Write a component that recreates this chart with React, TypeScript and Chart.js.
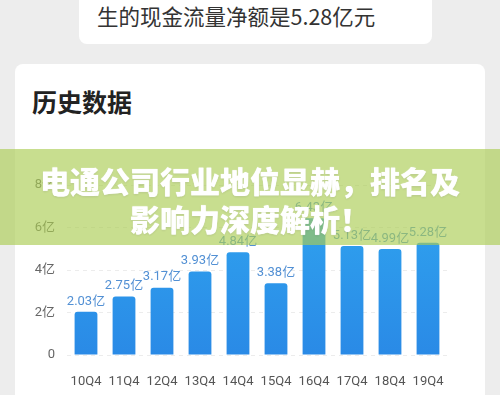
import React, { useEffect, useRef } from "react";
import { Chart, registerables } from "chart.js";

Chart.register(...registerables);

const categories = ["10Q4", "11Q4", "12Q4", "13Q4", "14Q4", "15Q4", "16Q4", "17Q4", "18Q4", "19Q4"];
const values = [2.03, 2.75, 3.17, 3.93, 4.84, 3.38, 6.43, 5.13, 4.99, 5.28];
const yTicks = [0, 2, 4, 6, 8];

const FONT = '"Noto Sans CJK SC", "Noto Sans", sans-serif';
const NUMFONT = 'Roboto, "Noto Sans CJK SC", sans-serif';

const valueLabels = {
  id: "valueLabels",
  afterDatasetsDraw(chart: any) {
    const { ctx } = chart;
    const meta = chart.getDatasetMeta(0);
    ctx.save();
    ctx.font = `13px ${NUMFONT}`;
    ctx.fillStyle = "#5290d4";
    ctx.textAlign = "center";
    ctx.textBaseline = "bottom";
    meta.data.forEach((el: any, i: number) => {
      ctx.fillText(values[i].toFixed(2) + "亿", el.x, el.y - 4);
    });
    ctx.restore();
  },
};

function BarChart() {
  const ref = useRef<HTMLCanvasElement | null>(null);
  useEffect(() => {
    if (!ref.current) return;
    const chart = new Chart(ref.current, {
      type: "bar",
      data: {
        labels: categories,
        datasets: [
          {
            data: values,
            backgroundColor: (c: any) => {
              const area = c.chart.chartArea;
              if (!area) return "#2c98ea";
              const g = c.chart.ctx.createLinearGradient(0, area.top, 0, area.bottom);
              g.addColorStop(0, "#30a6f0");
              g.addColorStop(1, "#2a8ae6");
              return g;
            },
            borderRadius: { topLeft: 3, topRight: 3 },
            borderSkipped: "bottom",
            categoryPercentage: 1,
            barPercentage: 0.6,
          },
        ],
      },
      options: {
        animation: false,
        responsive: false,
        maintainAspectRatio: false,
        layout: { padding: { left: 0, right: 53, top: 185, bottom: 0 } },
        plugins: { legend: { display: false }, tooltip: { enabled: false } },
        scales: {
          x: {
            grid: { display: false },
            border: { display: false },
            ticks: { color: "#555", font: { size: 13, family: NUMFONT }, padding: 11 },
            afterFit: (s: any) => {
              s.height = 40;
            },
          },
          y: {
            min: 0,
            max: 8,
            afterBuildTicks: (s: any) => {
              s.ticks = yTicks.map((v) => ({ value: v }));
            },
            grid: { color: "#ececec", drawTicks: false },
            border: { display: false, dash: [4, 4] },
            ticks: {
              color: "#666",
              font: { size: 13, family: NUMFONT },
              padding: 12,
              callback: (v: any) => (v === 0 ? "0" : v + "亿"),
            },
            afterFit: (s: any) => {
              s.width = 67;
            },
          },
        },
      },
      plugins: [valueLabels],
    });
    return () => chart.destroy();
  }, []);
  return (
    <canvas
      ref={ref}
      width={500}
      height={395}
      style={{ position: "absolute", left: 0, top: 0, width: 500, height: 395 }}
    />
  );
}

export default function App() {
  return (
    <div
      style={{
        position: "fixed",
        left: 0,
        top: 0,
        width: 500,
        height: 395,
        overflow: "hidden",
        background: "#ededed",
        fontFamily: FONT,
      }}
    >
      <div
        style={{
          position: "absolute",
          left: 79,
          top: -20,
          width: 353,
          height: 64,
          background: "#fff",
          borderRadius: 8,
        }}
      >
        <div
          style={{
            position: "absolute",
            left: 18,
            top: 20,
            height: 32,
            lineHeight: "32px",
            fontSize: 21.5,
            color: "#333",
            whiteSpace: "nowrap",
          }}
        >
          生的现金流量净额是5.28亿元
        </div>
      </div>
      <div
        style={{
          position: "absolute",
          left: 15,
          top: 64,
          width: 470,
          height: 360,
          background: "#fff",
          borderRadius: 8,
        }}
      >
        <div
          style={{
            position: "absolute",
            left: 17,
            top: 21,
            lineHeight: "32px",
            fontSize: 25,
            fontWeight: 700,
            color: "#222",
            whiteSpace: "nowrap",
          }}
        >
          历史数据
        </div>
      </div>
      <BarChart />
      <div
        style={{
          position: "absolute",
          left: 0,
          top: 149,
          width: 500,
          height: 96,
          background: "rgba(170,204,83,0.65)",
        }}
      >
        <div
          style={{
            position: "absolute",
            left: 0,
            top: 12,
            width: 500,
            textAlign: "center",
            color: "#fff",
            fontWeight: 900,
            fontSize: 30,
            lineHeight: "38px",
            textShadow: "0 0 1px #fff, 0 1px 2px rgba(0,0,0,0.12)",
          }}
        >
          电通公司行业地位显赫，排名及
          <br />
          影响力深度解析！
        </div>
      </div>
    </div>
  );
}
